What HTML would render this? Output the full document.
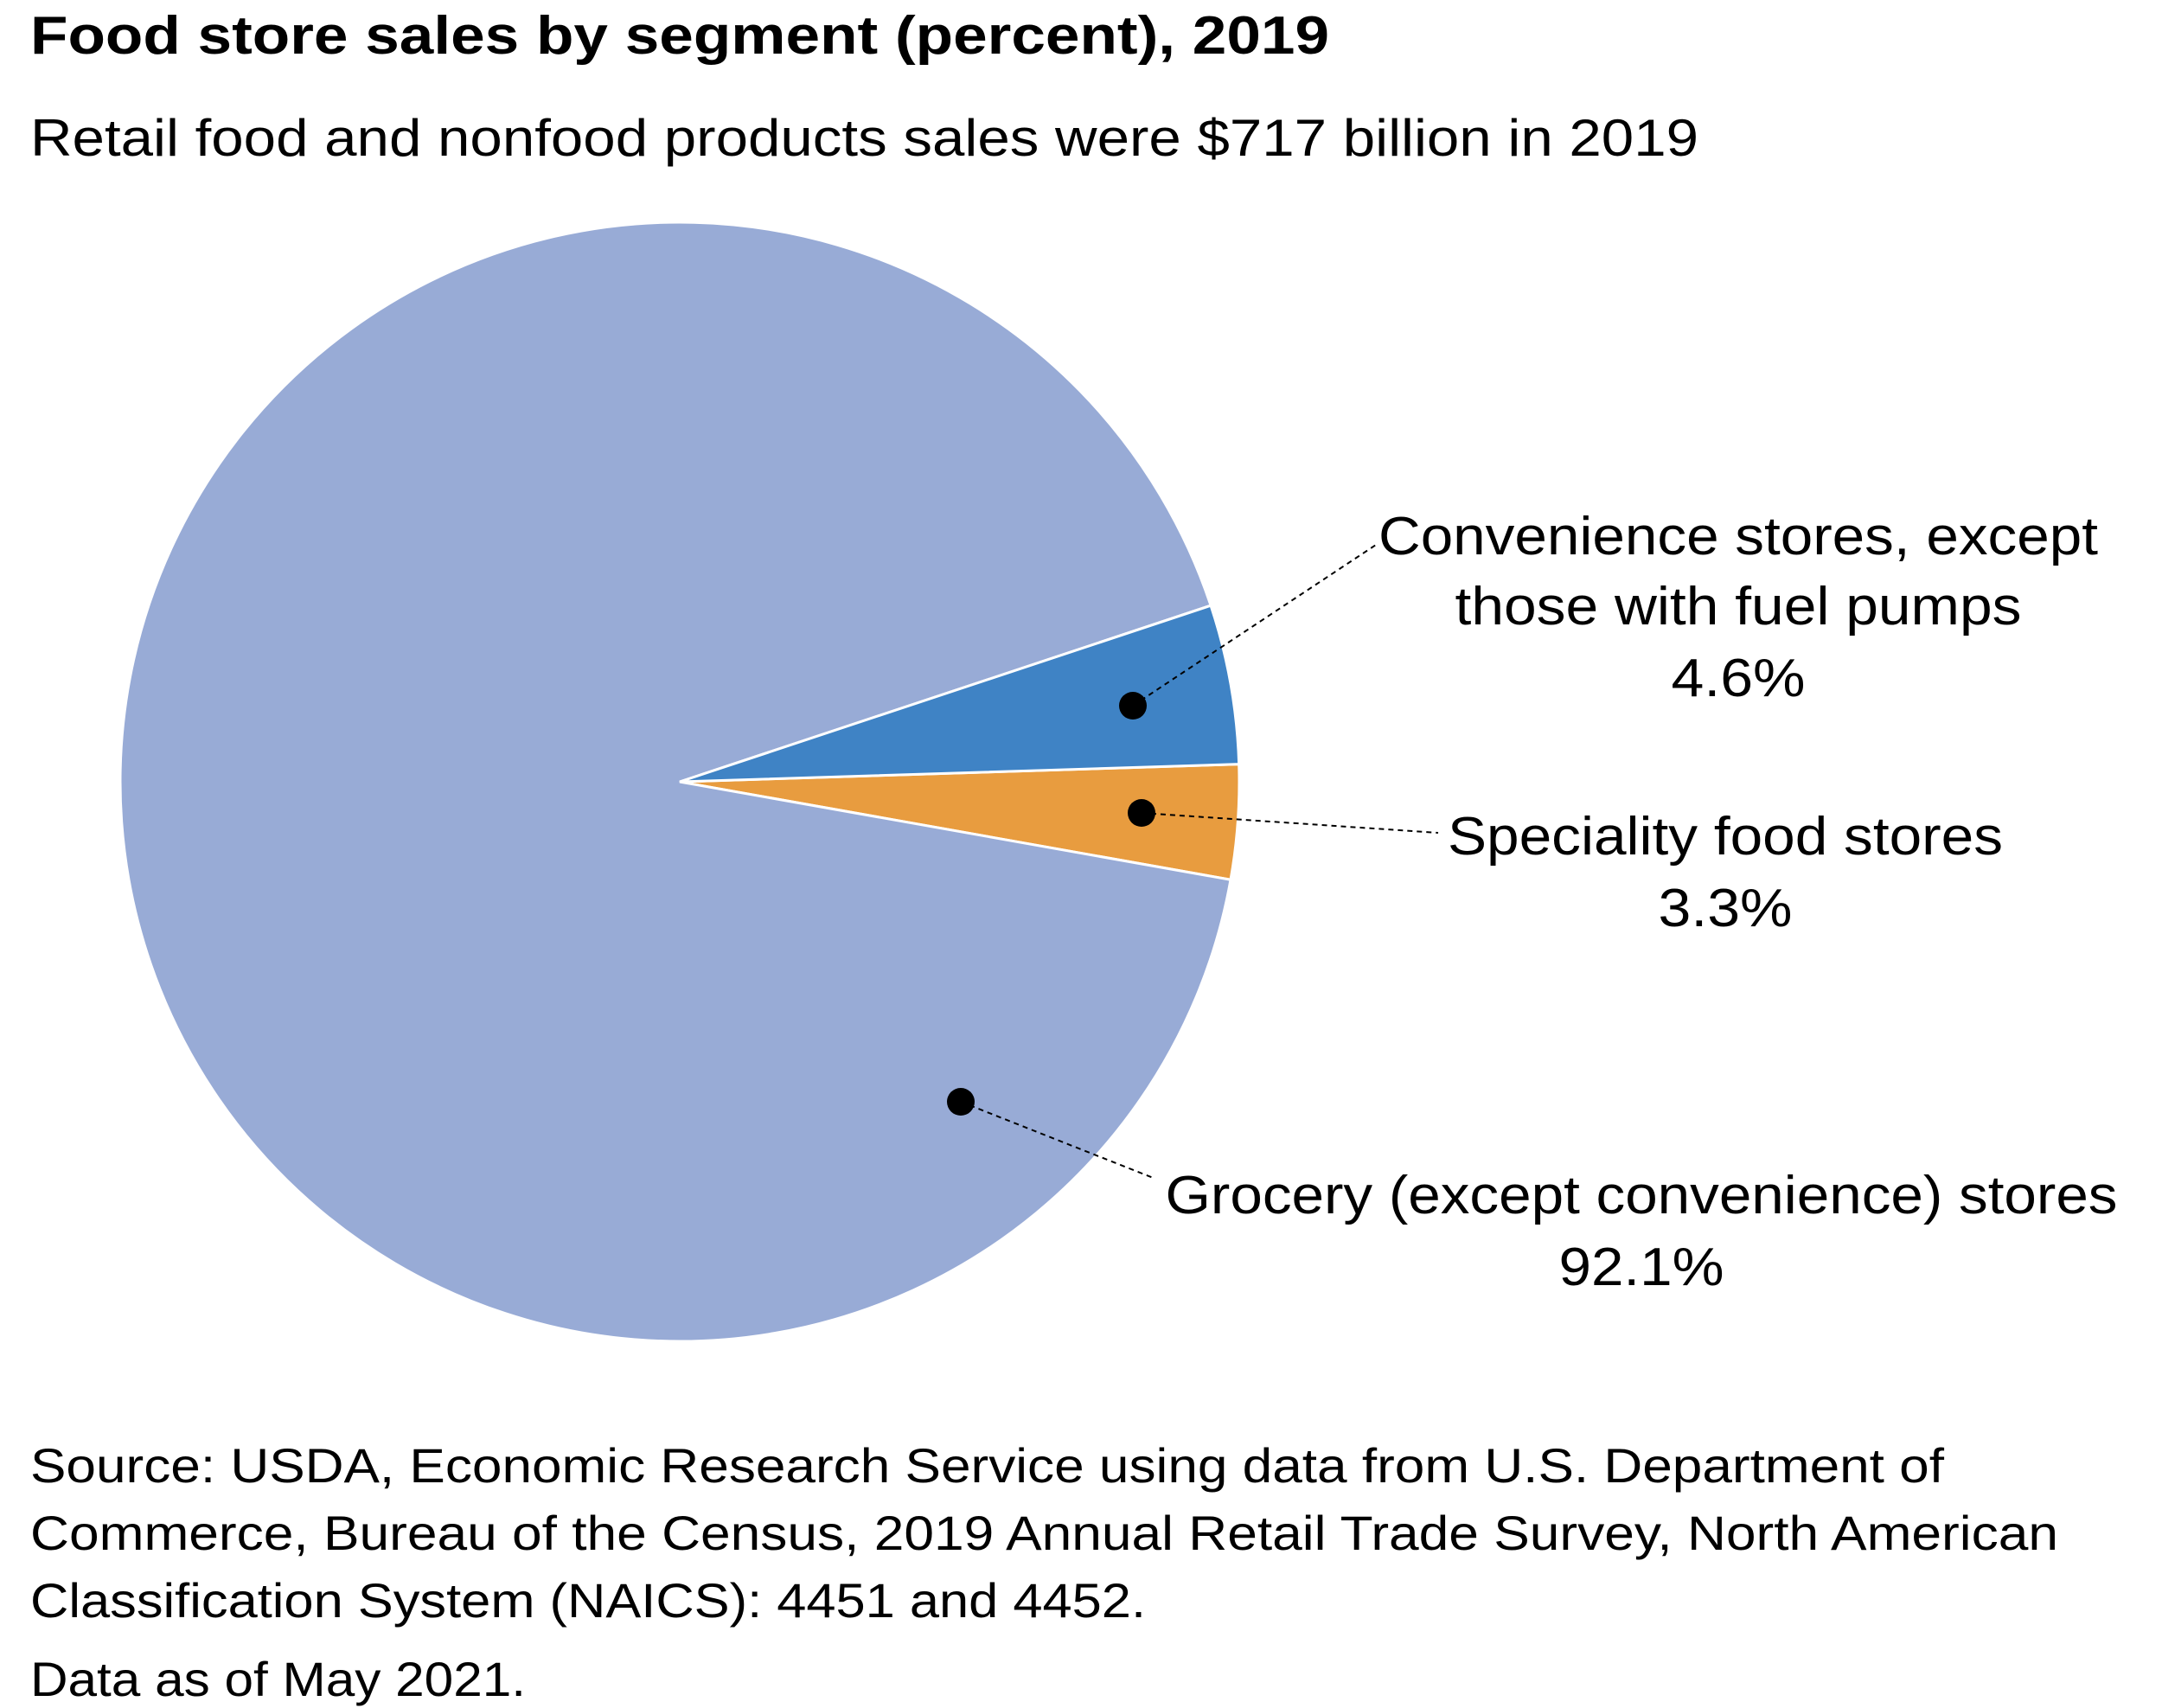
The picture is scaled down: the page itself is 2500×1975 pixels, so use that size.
<!DOCTYPE html>
<html><head><meta charset="utf-8"><style>
html,body{margin:0;padding:0;background:#fff;}
svg{display:block;font-family:"Liberation Sans",sans-serif;}
</style></head><body>
<svg id="chart" width="2500" height="1975" viewBox="0 0 2500 1975">
<text x="35" y="62" font-size="62" font-weight="bold" textLength="1502" lengthAdjust="spacingAndGlyphs">Food store sales by segment (percent), 2019</text>
<text x="35" y="180" font-size="60" textLength="1929" lengthAdjust="spacingAndGlyphs">Retail food and nonfood products sales were $717 billion in 2019</text>
<g id="slices"></g>
<g id="labels" font-size="62" text-anchor="middle">
<text x="2010" y="641" textLength="832" lengthAdjust="spacingAndGlyphs">Convenience stores, except</text>
<text x="2010" y="722" textLength="655" lengthAdjust="spacingAndGlyphs">those with fuel pumps</text>
<text x="2010" y="805" textLength="155" lengthAdjust="spacingAndGlyphs">4.6%</text>
<text x="1995" y="988" textLength="642" lengthAdjust="spacingAndGlyphs">Speciality food stores</text>
<text x="1995" y="1071" textLength="155" lengthAdjust="spacingAndGlyphs">3.3%</text>
<text x="1898" y="1403" textLength="1101" lengthAdjust="spacingAndGlyphs">Grocery (except convenience) stores</text>
<text x="1898" y="1486" textLength="191" lengthAdjust="spacingAndGlyphs">92.1%</text>
</g>
<g stroke="#000" stroke-width="2" stroke-dasharray="6,5" fill="none">
<line x1="1310" y1="816" x2="1591" y2="630"/>
<line x1="1320" y1="940" x2="1663" y2="963"/>
<line x1="1111" y1="1274" x2="1336" y2="1363"/>
</g>
<circle cx="1310" cy="816" r="16" fill="#000"/>
<circle cx="1320" cy="940" r="16" fill="#000"/>
<circle cx="1111" cy="1274" r="16" fill="#000"/>
<g font-size="56">
<text x="35" y="1714" textLength="2213" lengthAdjust="spacingAndGlyphs">Source: USDA, Economic Research Service using data from U.S. Department of</text>
<text x="35" y="1792" textLength="2345" lengthAdjust="spacingAndGlyphs">Commerce, Bureau of the Census, 2019 Annual Retail Trade Survey, North American</text>
<text x="35" y="1870" textLength="1290" lengthAdjust="spacingAndGlyphs">Classification System (NAICS): 4451 and 4452.</text>
<text x="35" y="1961" textLength="573" lengthAdjust="spacingAndGlyphs">Data as of May 2021.</text>
</g>
</svg>
<script>
const categories = ["Speciality food stores", "Grocery (except convenience) stores", "Convenience stores, except those with fuel pumps"];
const values = [3.3, 92.1, 4.6];
const colors = ["#e89c3f", "#98abd6", "#3f83c5"];
const cx = 786, cy = 904, r = 647;
const startDeg = -1.8;
const total = values.reduce((a,b)=>a+b,0);
const g = document.getElementById('slices');
let a = startDeg * Math.PI/180;
values.forEach((v,i)=>{
  const sweep = v/total*2*Math.PI;
  const a2 = a + sweep;
  const x1 = cx + r*Math.cos(a), y1 = cy + r*Math.sin(a);
  const x2 = cx + r*Math.cos(a2), y2 = cy + r*Math.sin(a2);
  const large = sweep > Math.PI ? 1 : 0;
  const p = document.createElementNS('http://www.w3.org/2000/svg','path');
  p.setAttribute('d', `M${cx},${cy} L${x1},${y1} A${r},${r} 0 ${large} 1 ${x2},${y2} Z`);
  p.setAttribute('fill', colors[i]);
  p.setAttribute('stroke', '#fff');
  p.setAttribute('stroke-width', '3');
  
  
  g.appendChild(p);
  a = a2;
});
</script>
</body></html>
